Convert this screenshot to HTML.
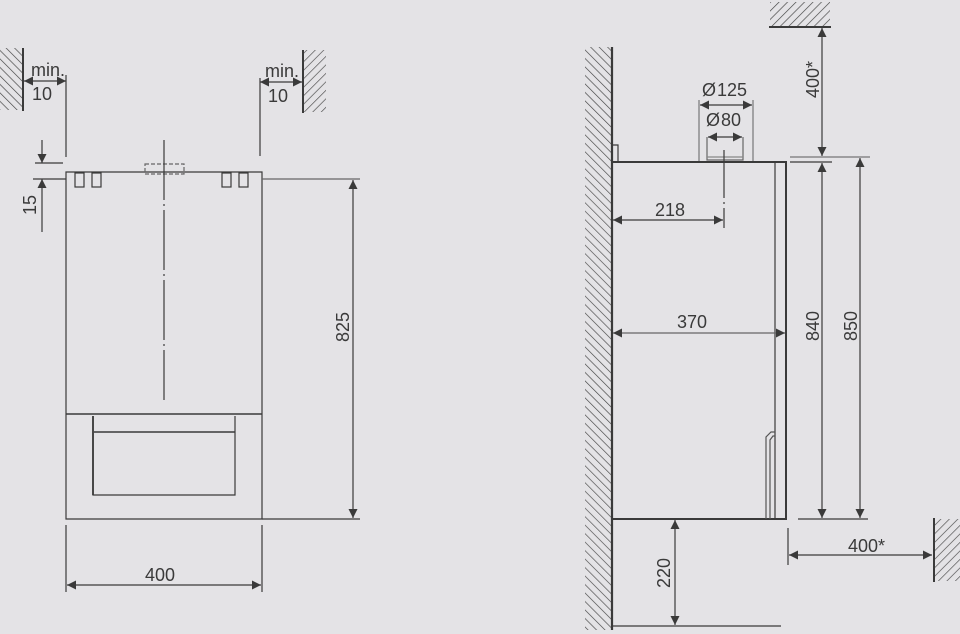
<!DOCTYPE html>
<html><head><meta charset="utf-8"><style>
html,body{margin:0;padding:0;background:#e4e3e6;}
svg{display:block}
text{font-family:"Liberation Sans",sans-serif;fill:#3a3a3a;font-size:18px}
</style></head><body>
<svg width="960" height="634" viewBox="0 0 960 634" xmlns="http://www.w3.org/2000/svg">
<defs>
<pattern id="h1" width="6" height="6" patternUnits="userSpaceOnUse" patternTransform="rotate(-45)">
<line x1="0" y1="0" x2="0" y2="6" stroke="#444" stroke-width="1.3"/></pattern>
<pattern id="h2" width="6" height="6" patternUnits="userSpaceOnUse" patternTransform="rotate(45)">
<line x1="0" y1="0" x2="0" y2="6" stroke="#444" stroke-width="1.3"/></pattern>
<marker id="a" viewBox="0 0 10 10" refX="10" refY="5" markerWidth="13" markerHeight="9" markerUnits="userSpaceOnUse" orient="auto-start-reverse">
<path d="M0,0 L10,5 L0,10 z" fill="#3a3a3a"/></marker>
</defs>
<g stroke="#3a3a3a" stroke-width="1.2" fill="none">
<rect x="0" y="48" width="23" height="62" fill="url(#h1)" stroke="none"/>
<line x1="23" y1="48" x2="23" y2="111" stroke-width="2"/>
<rect x="304" y="50" width="22" height="62" fill="url(#h2)" stroke="none"/>
<line x1="303" y1="50" x2="303" y2="113" stroke-width="2"/>
<line x1="24" y1="81" x2="66" y2="81" marker-start="url(#a)" marker-end="url(#a)"/>
<line x1="66" y1="75" x2="66" y2="157"/>
<line x1="260" y1="82" x2="302" y2="82" marker-start="url(#a)" marker-end="url(#a)"/>
<line x1="260" y1="78" x2="260" y2="156"/>
<line x1="35" y1="163" x2="63" y2="163"/>
<line x1="33" y1="179" x2="66" y2="179"/>
<line x1="42" y1="140" x2="42" y2="163" marker-end="url(#a)"/>
<line x1="42" y1="232" x2="42" y2="179" marker-end="url(#a)"/>
<path d="M66,172 H262 V519 H66 Z"/>
<line x1="66" y1="414" x2="262" y2="414" stroke-width="1.6"/>
<path d="M93,416 V495 H235 V416"/>
<line x1="93" y1="416" x2="93" y2="495" stroke-width="1.8"/>
<line x1="94" y1="432" x2="235" y2="432" stroke-width="1.4"/>
<rect x="75" y="173" width="9" height="14"/><rect x="92" y="173" width="9" height="14"/>
<rect x="222" y="173" width="9" height="14"/><rect x="239" y="173" width="9" height="14"/>
<rect x="145" y="164" width="39" height="10" stroke-dasharray="4,2" stroke="#666"/>
<line x1="164" y1="140" x2="164" y2="400" stroke-dasharray="60,4,2,4"/>
<line x1="262" y1="179" x2="360" y2="179" stroke="#666"/>
<line x1="262" y1="519" x2="360" y2="519"/>
<line x1="353" y1="180" x2="353" y2="518" marker-start="url(#a)" marker-end="url(#a)"/>
<line x1="66" y1="525" x2="66" y2="592"/>
<line x1="262" y1="525" x2="262" y2="592"/>
<line x1="67" y1="585" x2="261" y2="585" marker-start="url(#a)" marker-end="url(#a)"/>

<rect x="585" y="47" width="27" height="583" fill="url(#h1)" stroke="none"/>
<line x1="612" y1="47" x2="612" y2="630" stroke-width="2.2"/>
<path d="M612,145 H618 V162"/>
<path d="M612,162 H786 V519 H612" stroke-width="2"/>
<line x1="775" y1="162" x2="775" y2="519"/>
<path d="M766,519 V437 L771,432 H775 M770,519 V440 L773,436 H775" stroke="#555"/>
<line x1="699" y1="100" x2="699" y2="161" stroke="#777"/>
<line x1="753" y1="100" x2="753" y2="161" stroke="#777"/>
<path d="M707,137 V160 H743 V137" stroke="#666"/>
<line x1="707" y1="157" x2="743" y2="157" stroke="#888"/>
<line x1="700" y1="105" x2="752" y2="105" marker-start="url(#a)" marker-end="url(#a)"/>
<line x1="708" y1="137" x2="742" y2="137" marker-start="url(#a)" marker-end="url(#a)"/>
<line x1="724" y1="150" x2="724" y2="228" stroke-dasharray="48,4,2,4"/>
<line x1="613" y1="220" x2="723" y2="220" marker-start="url(#a)" marker-end="url(#a)"/>
<line x1="613" y1="333" x2="785" y2="333" marker-start="url(#a)" marker-end="url(#a)" stroke="#666"/>
<rect x="770" y="2" width="60" height="25" fill="url(#h2)" stroke="none"/>
<line x1="769" y1="27" x2="831" y2="27" stroke-width="2"/>
<line x1="822" y1="28" x2="822" y2="156" marker-start="url(#a)" marker-end="url(#a)"/>
<line x1="790" y1="157" x2="870" y2="157" stroke="#888" stroke-width="1.5"/>
<line x1="790" y1="162" x2="832" y2="162"/>
<line x1="822" y1="163" x2="822" y2="518" marker-start="url(#a)" marker-end="url(#a)"/>
<line x1="860" y1="158" x2="860" y2="518" marker-start="url(#a)" marker-end="url(#a)"/>
<line x1="798" y1="519" x2="868" y2="519"/>
<line x1="788" y1="528" x2="788" y2="565"/>
<line x1="789" y1="555" x2="932" y2="555" marker-start="url(#a)" marker-end="url(#a)"/>
<rect x="934" y="519" width="26" height="62" fill="url(#h2)" stroke="none"/>
<line x1="934" y1="518" x2="934" y2="582" stroke-width="2"/>
<line x1="675" y1="520" x2="675" y2="625" marker-start="url(#a)" marker-end="url(#a)"/>
<line x1="612" y1="626" x2="781" y2="626"/>
</g>
<text x="31" y="76" font-size="15">min.</text>
<text x="32" y="100" font-size="16">10</text>
<text x="265" y="77" font-size="15">min.</text>
<text x="268" y="102" font-size="16">10</text>
<text transform="translate(36,215) rotate(-90)">15</text>
<text transform="translate(349,342) rotate(-90)">825</text>
<text x="145" y="581">400</text>
<text x="702" y="96">Ø<tspan dx="1">125</tspan></text>
<text x="706" y="126">Ø<tspan dx="1">80</tspan></text>
<text x="655" y="216">218</text>
<text x="677" y="328">370</text>
<text transform="translate(819,98) rotate(-90)">400*</text>
<text transform="translate(819,341) rotate(-90)">840</text>
<text transform="translate(857,341) rotate(-90)">850</text>
<text x="848" y="552">400*</text>
<text transform="translate(670,588) rotate(-90)">220</text>
</svg>
</body></html>
